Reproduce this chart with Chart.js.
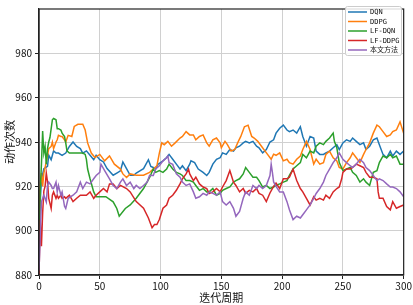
<!DOCTYPE html>
<html><head><meta charset="utf-8">
<script src="https://cdn.jsdelivr.net/npm/chart.js@4/dist/chart.umd.min.js"></script>
<style>html,body{margin:0;padding:0;background:#fff}#wrap{width:413px;height:305px}</style>
</head><body><div id="wrap"><canvas id="c" width="413" height="305"></canvas></div>
<script>
const seriesNames = ['DQN', 'DDPG', 'LF-DQN', 'LF-DDPG', '本文方法'];
const seriesColors = ['#1f77b4', '#ff7f0e', '#2ca02c', '#d62728', '#9467bd'];
const xTicks = [0, 50, 100, 150, 200, 250, 300];
const yTicks = [880, 900, 920, 940, 960, 980];

const dqnX = [0,1,2,4,7,8,10,11,12,14,16,19,22,25,28,31,34,36,39,42,45,47,50,53,56,61,64,67,69,72,75,78,80,83,86,90,92,94,96,98,102,105,107,110,113,116,118,121,124,125,128,131,135,138,140,143,146,149,151,154,157,160,162,165,168,170,173,176,179,181,184,187,190,193,195,198,201,204,206,209,212,215,217,220,223,226,228,231,234,236,239,242,245,247,250,253,256,258,261,264,267,269,272,275,278,280,283,286,289,291,294,297,300];
const dqnY = [903,913,923,928,929,934,932,934,936,935,935,934,935,938,940,938,937,935,936,934,932,934,932,931,928,925,926,927,931,928,925,925,926,927,928,932,929,928.5,927.8,930,931.5,933,934.4,932.2,930,927.8,929.3,927.1,930,931.5,930.7,927.8,926.3,924.9,926.3,930,932.2,932.9,935.1,934.4,936.6,935.9,937.4,938.1,939.6,940.3,939.6,940.3,938.1,937.4,935.1,936.6,940,941,944,946.2,947.6,945.4,944.7,945.4,944,946.9,942.5,938.1,942.5,941.8,935.9,934.4,934.4,935.1,935.9,937.4,938.8,936.6,939.6,941,940.3,941.8,940.3,938.8,939.6,936.6,938.1,941,941.8,938.8,934.4,932.9,935.9,933.7,935.9,934.4,935.9];

const ddpgX = [0,1,2,3,4,6,7,8,10,11,12,14,15,16,18,19,21,22,24,27,29,32,35,36,38,40,43,46,50,54,58,62,67,69,72,75,80,86,91,97,99,101,103,106,109,112,116,118,121,124,127,129,132,135,138,140,143,146,149,150,153,155,158,161,164,166,169,172,175,177,180,183,186,188,191,193,195,198,201,204,206,209,212,215,217,220,223,226,228,231,234,236,239,242,245,247,250,253,256,258,261,264,267,269,272,275,278,280,283,286,289,291,294,297,300];
const ddpgY = [898,920,926,920,926,931,934,937,938,940,937,940,941,943,942.5,942.5,941,940,943,942.5,947,948,948,948,945.4,939.6,935,933,934.4,931.5,933.7,930,927.8,925.6,924,925.6,925,925,926.3,929.3,935,939.6,938.8,940.3,938.1,939.6,941.8,942.5,944.7,943.2,943.2,941,942.5,943.2,939.6,938.1,941,941.8,939.6,937.4,940.3,938.8,935.9,936.6,940.3,942.5,946.9,947.6,942.5,941.8,940.3,938.1,935.9,934.4,932.2,934.5,934,935.1,931.5,932.2,930.7,930,932.2,933.7,936.6,940.3,936.6,930,932.2,930,930.7,934.4,935.9,932.9,931.5,928.5,927.8,930.7,932.9,935.1,932.9,930.7,934.4,936.6,939.6,944,947.6,946.9,944.7,942.5,943.2,944.7,945.4,949.1,943.9];

const lfdqnX = [0,1,2,3,4,5,6,7,8,9,11,12,14,15,16,18,19,21,22,23,25,28,31,34,36,38,39,40,42,45,47,51,55,61,64,66,71,75,80,86,91,94,96,99,102,105,107,110,113,116,118,121,124,127,129,132,135,138,140,143,146,149,151,154,157,160,162,165,168,170,173,176,179,181,184,187,190,193,195,198,201,204,206,209,212,215,217,220,223,226,228,231,234,236,239,242,243,245,247,250,253,256,258,261,264,267,269,272,275,278,280,283,286,289,291,294,297,300];
const lfdqnY = [884,918,930,945,935,938,930,937,940,942,950,950.6,950,946,946,945.4,944,942.5,939.6,936,935,935,935,935,935,934.4,932.2,927.8,923.4,917.5,915.3,915.3,915.3,913,910,906.5,910,911.6,914.6,919,924,927.8,926.3,927.1,926.3,927.8,930,927.8,926.3,925.6,924.9,922.6,922.6,921.9,920.4,918.2,919,917.5,917.5,919,916,916.8,918.2,919,919.7,921.9,922.6,923.4,925.6,928.5,926.3,924.1,924.1,922.6,919.7,920.4,919,919.7,920.4,921.1,921.9,922.6,924.9,927.8,929.3,930.7,934.4,932.9,935.9,935.1,938.1,939.6,938.8,940.3,941.8,944,940.3,937.4,930.7,927.1,927.8,928.5,926.3,924.9,921.9,923.4,921.9,920.4,926.3,927.1,930.7,933.7,932.9,934.4,932.9,933.7,930,930];

const lfddpgX = [0,1,2,3,4,5,6,7,8,10,11,12,14,15,16,18,19,21,22,25,28,31,34,39,42,45,47,50,53,56,58,61,64,67,72,75,80,86,90,93,95,97,99,102,105,107,110,113,116,118,121,123,124,127,129,132,135,138,140,143,146,149,151,154,157,160,162,165,168,170,173,176,179,181,184,187,190,193,195,198,201,204,206,209,212,215,217,220,223,226,228,231,234,236,239,242,245,247,249,250,253,256,258,261,264,267,269,272,275,278,279,280,283,286,289,291,294,297,300];
const lfddpgY = [880,905,893,908,918,920,926,922,914.6,910,916,917.5,914.6,916,914.6,916,914.6,915.3,914.6,916,913.1,914.6,916,916,917.5,914.6,916,917.5,919,917.5,921.1,921.1,919,920.4,919,917.5,913.1,910.1,905.7,901.3,902.8,902.8,905,910.1,911.6,914.6,916,918.2,921.1,923.4,925.6,927.8,925.6,922.6,924.1,921.1,919.7,919,916.8,917.5,919,917.5,919.7,922.6,927.1,921.9,920.4,917.5,919,916.8,918.2,917.5,919,916.8,916,913.1,917,920,921.5,919,923.4,923.4,924.1,927.8,922.6,919,917.5,914.6,911.6,915.3,913.8,914.6,913.8,916,914.6,917.5,919,919.7,923.4,926.3,927.8,927.8,928.5,930,929.3,928.5,926.3,924.1,924.1,923.4,917.5,914.6,914.6,910.9,909.4,913.1,910.1,910.9,911.6];

const oursX = [0,1,2,4,6,7,8,10,11,12,14,15,16,18,19,21,22,24,28,31,34,36,39,42,45,47,50,51,54,58,61,64,67,69,72,75,78,80,83,86,89,91,94,96,99,102,105,106,107,110,113,116,118,121,124,127,129,132,135,138,140,143,146,149,151,154,157,160,162,165,168,170,173,176,179,181,184,187,190,191,192,193,195,198,201,204,206,209,212,215,217,220,223,226,228,231,234,236,239,242,245,247,250,253,256,258,261,264,267,269,272,275,278,280,283,286,289,291,294,297,300];
const oursY = [882,898,913,916,913,920.4,921.9,920.4,919,919,921.9,917.5,920.4,916,917.5,911,910,914.6,916,917.5,921.9,919,921.9,921.1,923.4,924.9,926.3,930,927.1,923.4,920.4,919,921.9,923.4,920.4,921.9,919,920.4,919,920.4,921.9,925,924.9,927.8,929.3,931.5,932.9,933.7,930.7,929.9,925.6,924.1,921.9,920.4,921.1,917.5,914.6,915.3,916.8,916,917.5,916.8,916,917.5,913.1,911.6,913.1,910.1,906.5,908.7,914.6,917.5,916,920.4,919,920.4,919,920.4,924.9,930,926.3,922,920,917.5,917.5,913.1,909.4,905,906.5,905.7,907.2,909.4,911.6,914.6,916.8,919,921.9,924.9,927.8,930.7,932.9,935.1,932.2,930.7,929.3,928.5,930,932.2,930.7,928.5,927.1,924.9,922.6,923.4,922.6,921.1,919.7,919.7,919,917.5,915.3];

const xs = [dqnX, ddpgX, lfdqnX, lfddpgX, oursX];
const ys = [dqnY, ddpgY, lfdqnY, lfddpgY, oursY];

const FONT = '"Noto Sans CJK SC", "DejaVu Sans", sans-serif';

const framePlugin = {
  id: 'frame',
  afterDatasetsDraw(chart) {
    const {ctx, chartArea: a} = chart;
    ctx.save();
    ctx.strokeStyle = '#222';
    ctx.lineWidth = 1.2;
    ctx.strokeRect(a.left, a.top, a.right - a.left, a.bottom - a.top);
    const bx = 345, by = 6, bw = 56, bh = 49;
    ctx.fillStyle = 'rgba(255,255,255,0.85)';
    ctx.strokeStyle = '#cccccc';
    ctx.lineWidth = 1;
    ctx.beginPath();
    if (ctx.roundRect) ctx.roundRect(bx + 0.5, by + 0.5, bw, bh, 2); else ctx.rect(bx + 0.5, by + 0.5, bw, bh);
    ctx.fill(); ctx.stroke();
    ctx.font = '7px "DejaVu Sans Mono", "Noto Sans CJK SC", monospace';
    ctx.textBaseline = 'middle';
    chart.data.datasets.forEach((ds, i) => {
      const y = 12 + i * 9.5;
      ctx.strokeStyle = ds.borderColor;
      ctx.lineWidth = 1.5;
      ctx.beginPath(); ctx.moveTo(348, y); ctx.lineTo(367, y); ctx.stroke();
      ctx.fillStyle = '#111';
      ctx.fillText(ds.label, 370, y + 0.5);
    });
    ctx.restore();
  }
};

new Chart(document.getElementById('c'), {
  type: 'line',
  data: {
    datasets: seriesNames.map((name, i) => ({
      label: name,
      data: xs[i].map((x, j) => ({x: x, y: ys[i][j]})),
      borderColor: seriesColors[i],
      backgroundColor: seriesColors[i],
      borderWidth: 1.5,
      pointRadius: 0,
      tension: 0,
      fill: false,
      order: 5 - i
    }))
  },
  options: {
    responsive: false,
    animation: false,
    devicePixelRatio: 1,
    layout: {padding: {left: 0, right: 9, top: 3, bottom: 0}},
    plugins: {legend: {display: false}, tooltip: {enabled: false}},
    scales: {
      x: {
        type: 'linear', min: 0, max: 300,
        afterBuildTicks: s => { s.ticks = xTicks.map(v => ({value: v})); },
        afterFit: s => { s.height = 30; },
        grid: {color: '#d0d0d0', lineWidth: 1, tickLength: 4, tickColor: '#222', drawTicks: true},
        border: {color: '#222', width: 1.2},
        ticks: {font: {family: FONT, size: 10}, color: '#111', padding: 1, maxRotation: 0},
        title: {display: true, text: '迭代周期', font: {family: FONT, size: 11}, color: '#111', padding: {top: 0, bottom: 1}}
      },
      y: {
        type: 'linear', min: 880, max: 1000,
        afterBuildTicks: s => { s.ticks = yTicks.map(v => ({value: v})); },
        afterFit: s => { s.width = 39; },
        grid: {color: '#d0d0d0', lineWidth: 1, tickLength: 4, tickColor: '#222', drawTicks: true},
        border: {color: '#222', width: 1.2},
        ticks: {font: {family: FONT, size: 10}, color: '#111', padding: 3},
        title: {display: true, text: '动作次数', font: {family: FONT, size: 11}, color: '#111', padding: {top: 3, bottom: 0}}
      }
    }
  },
  plugins: [framePlugin]
});
</script></body></html>
